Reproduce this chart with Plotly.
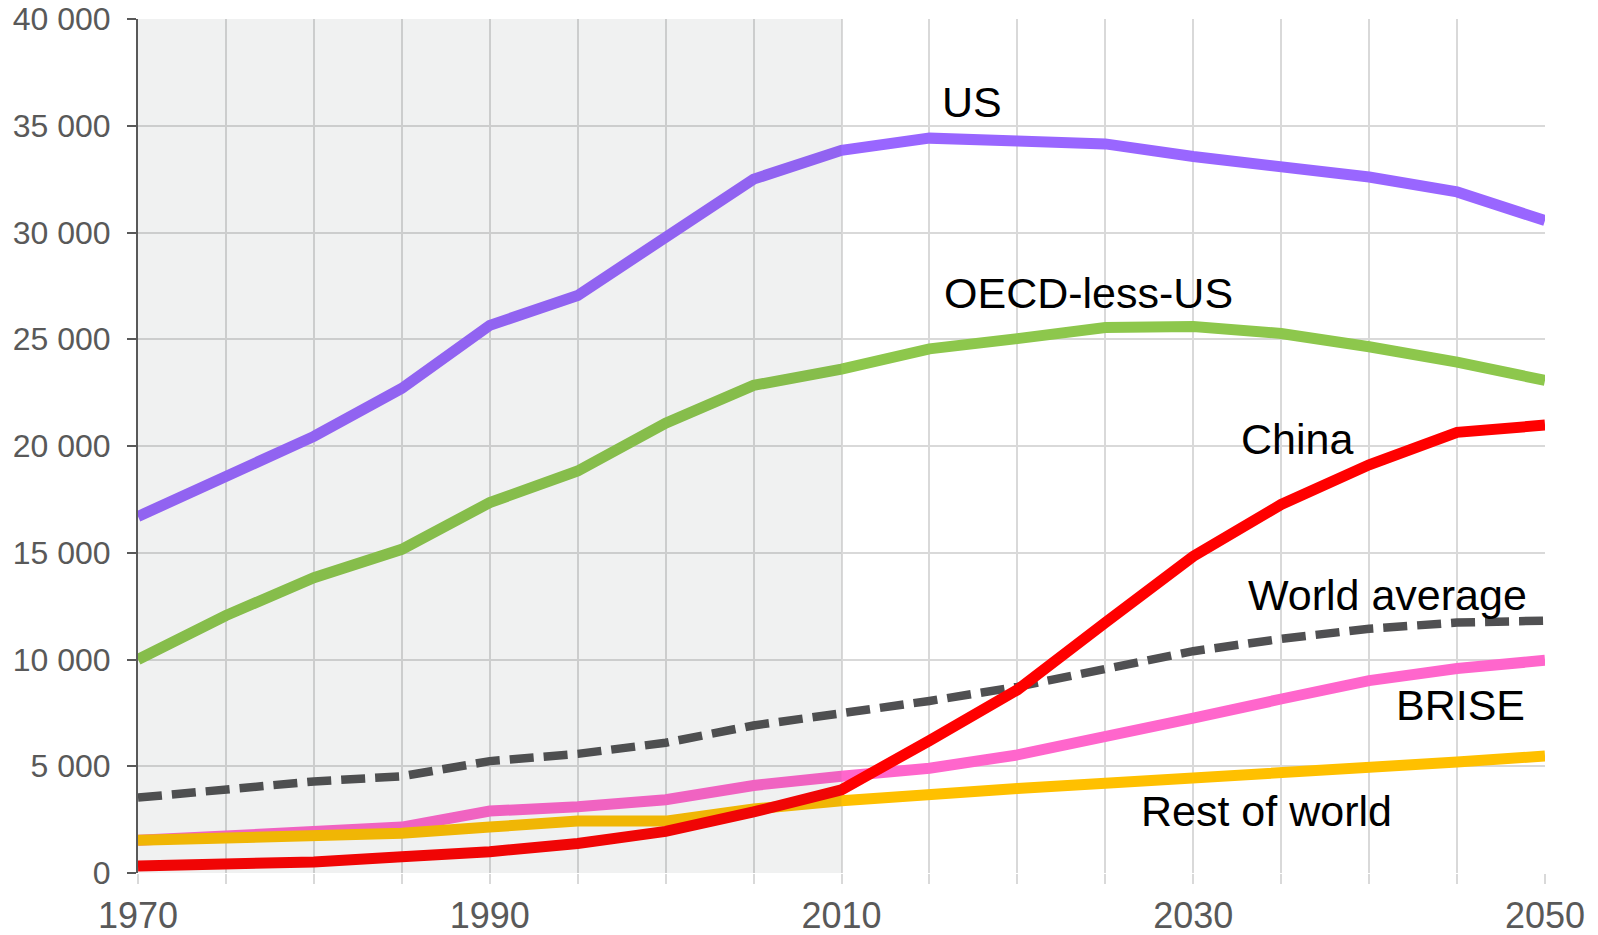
import plotly.graph_objects as go

years = list(range(1970, 2051, 5))

us = [16700, 18550, 20450, 22700, 25650, 27050, 29800, 32500, 33850,
      34420, 34280, 34150, 33560, 33130, 32600, 31900, 30560]
oecd_less_us = [10000, 12060, 13830, 15160, 17350, 18830, 21070, 22840, 23600,
                24550, 25030, 25550, 25600, 25270, 24650, 23930, 23070]
china = [330, 380, 520, 760, 1000, 1380, 1950, 2860, 3900,
         6200, 8580, 11730, 14830, 17260, 19120, 20640, 20980]
world_avg = [3530, 3900, 4290, 4530, 5240, 5580, 6100, 6910, 7440,
             8060, 8720, 9540, 10390, 10970, 11440, 11730, 11820]
brise = [1530, 1760, 1950, 2150, 2900, 3100, 3430, 4100, 4530,
         4910, 5530, 6340, 7250, 8150, 9010, 9580, 9960]
rest_of_world = [1530, 1670, 1810, 1860, 2150, 2430, 2430, 3000, 3380,
                 3720, 3960, 4200, 4430, 4670, 4910, 5200, 5480]

y_ticks = list(range(0, 40001, 5000))
y_labels = [f"{v:,}".replace(",", " ") for v in y_ticks]

fig = go.Figure()

series = [
    ("US", us, "#9966FF", "solid"),
    ("OECD-less-US", oecd_less_us, "#8DC74C", "solid"),
    ("BRISE", brise, "#FF66CC", "solid"),
    ("World average", world_avg, "#505052", "24px,10px"),
    ("Rest of world", rest_of_world, "#FFC000", "solid"),
    ("China", china, "#FF0000", "solid"),
]
for name, vals, color, dash in series:
    fig.add_trace(go.Scatter(x=years, y=vals, mode="lines", name=name,
                             line=dict(color=color, width=11 if dash == "solid" else 8.5, dash=dash)))

# shaded historical period
fig.add_shape(type="rect", xref="x", yref="y", x0=1970, x1=2010, y0=0, y1=40000,
              fillcolor="rgba(60,70,65,0.075)", line_width=0, layer="above")

labels = [
    ("US", 2015.6, 36.1),
    ("OECD-less-US", 2015.7, 27.15),
    ("China", 2032.6, 20.35),
    ("World average", 2033.0, 13.0),
    ("BRISE", 2041.4, 7.85),
    ("Rest of world", 2026.9, 2.9),
]
for txt, xv, yv in labels:
    fig.add_annotation(x=xv, y=yv * 1000, text=txt, showarrow=False, xanchor="left",
                       font=dict(family="Liberation Sans, Arial", size=43, color="black"))

fig.update_layout(
    width=1598, height=935,
    margin=dict(l=138, r=53, t=19, b=62),
    plot_bgcolor="white", paper_bgcolor="white",
    showlegend=False,
    font=dict(family="Liberation Sans, Arial", color="#595959"),
)
fig.update_xaxes(range=[1970, 2050], tickvals=[1970, 1990, 2010, 2030, 2050],
                 showgrid=True, gridcolor="#D9D9D9", gridwidth=2,
                 minor=dict(dtick=5, showgrid=True, gridcolor="#D9D9D9", gridwidth=2,
                            ticks="outside", ticklen=10, tickcolor="#D9D9D9", tickwidth=2),
                 ticks="outside", ticklen=10, tickcolor="#D9D9D9", tickwidth=2,
                 showline=False, zeroline=False, tickfont=dict(size=36),
                 ticklabelstandoff=1, automargin=False)
fig.update_yaxes(range=[0, 40000], tickvals=y_ticks, ticktext=y_labels,
                 showgrid=True, gridcolor="#D9D9D9", gridwidth=2,
                 ticks="outside", ticklen=9, tickcolor="#595959", tickwidth=2,
                 showline=True, linecolor="#595959", linewidth=2, zeroline=False,
                 tickfont=dict(size=32), ticklabelstandoff=10, automargin=False)

# drop the default page margin so the figure sits at the top-left corner
fig.write_html("out.html", config={"displayModeBar": False},
               post_script="document.body.style.margin='0';")
